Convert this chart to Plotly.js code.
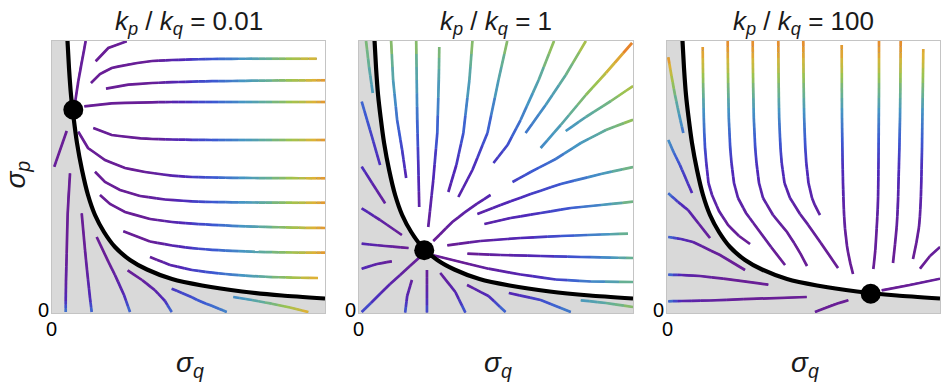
<!DOCTYPE html>
<html><head><meta charset="utf-8">
<script src="https://cdn.plot.ly/plotly-3.0.1.min.js"></script>
<style>html,body{margin:0;padding:0;background:#fff}#chart{width:947px;height:386px}</style>
</head><body><div id="chart"></div>
<script>
// ---- data (arbitrary sigma units; axes run 0..Q_MAX and 0..P_MAX) ----
const RATIOS = ['0.01', '1', '100'];
const TICK_LABEL = '0';
const Q_MAX = 273, P_MAX = 272;
// the black curve (same in all panels)
const CURVE_Q = [15.5, 17, 19, 21.5, 25, 30, 36, 43, 52, 63, 78, 95, 120, 150, 190, 230, 273];
const CURVE_P = [272, 245, 218, 196, 170, 143, 118, 98, 81, 66, 53, 43.5, 34, 27.5, 21.5, 17.5, 14.5];
// fixed points
const FIXED_Q = [21.3, 65, 203.7];
const FIXED_P = [203.3, 62.7, 19.3];
// streamlines: each point is [sigma_q, sigma_p, relative speed]
const STREAMS_1 = [
  [[43.7,251.7,0],[56.3,265,0],[74.7,271.7,0.02]],
  [[33.7,272,0.03],[28,243,0.02],[23,210,0]],
  [[39,230,0],[48,239,0],[59.7,245,0],[78,249,0],[100,252,0],[120,253,0.12],[140,253.6,0.25],[160,254,0.34],[180,254.2,0.44],[200,254.3,0.54],[220,254.3,0.65],[240,254.3,0.76],[264.7,254.3,0.88]],
  [[54,224.3,0],[76.3,228.3,0],[100,230,0],[120,230.8,0.12],[140,231.4,0.25],[160,231.8,0.34],[180,232,0.44],[200,232.3,0.54],[220,232.5,0.65],[240,232.6,0.76],[260,232.7,0.86],[273,232.7,0.95]],
  [[32.3,206.7,0],[59.7,209.7,0],[100,210.7,0],[120,211,0.12],[140,211,0.25],[160,211,0.34],[180,211,0.44],[200,211,0.54],[220,211,0.65],[240,211,0.76],[260,211,0.86],[273,211,0.95]],
  [[41.3,185,0],[59.7,178,0],[83,175,0],[100,174,0],[120,173.5,0.12],[140,173.2,0.25],[160,173,0.34],[180,173,0.44],[200,173,0.54],[220,173,0.65],[240,173,0.76],[260,173,0.86],[273,173,0.95]],
  [[26.3,181.3,0],[36,165,0],[53,153,0],[73,145,0],[93,141,0],[120,137.3,0.12],[140,136,0.25],[160,135.5,0.34],[180,135.1,0.44],[200,135,0.54],[220,134.9,0.65],[240,134.8,0.76],[260,134.7,0.86],[273,134.7,0.95]],
  [[43,141.3,0],[53,131,0],[68,123,0],[88,117,0],[113,113.5,0.08],[140,111.6,0.25],[160,111,0.34],[180,110.7,0.44],[200,110.5,0.54],[220,110.4,0.65],[240,110.3,0.76],[260,110.3,0.86],[273,110.3,0.95]],
  [[48,118,0],[58,109,0],[73,101,0],[98,94,0],[120,91,0.12],[140,89.3,0.25],[160,88.2,0.34],[180,87.2,0.44],[200,86.4,0.54],[220,85.9,0.65],[240,85.4,0.76],[260,85.1,0.86],[273,85,0.95]],
  [[71.3,81.7,0],[83,77,0],[98,71.5,0],[120,67.5,0.12],[140,64.8,0.25],[160,63.2,0.34],[180,62.1,0.44],[200,61.3,0.54],[220,60.8,0.65],[240,60.5,0.76],[260,60.4,0.86],[273,60.3,0.95]],
  [[98,56,0],[118,48,0.11],[140,43,0.25],[160,40.3,0.34],[180,38.3,0.44],[200,36.9,0.54],[220,35.9,0.65],[240,35.4,0.76],[266,35,0.9]],
  [[14.7,182,0],[8,163,0],[2.3,146.3,0.02]],
  [[18,139.7,0],[16,113,0],[15,73,0],[14,33,0.05],[13.7,12,0.2],[13.7,1,0.45]],
  [[29.7,99.7,0],[32,73,0],[35,43,0.05],[38,15,0.2],[39.7,1,0.42]],
  [[44.7,76,0],[53,58,0],[63,38,0.05],[72,18,0.18],[78,1,0.42]],
  [[75.7,42.7,0],[90,33,0.03],[103,22.7,0.1],[113,12,0.22],[119.7,1,0.42]],
  [[119.7,24.3,0.25],[135,18,0.3],[149.7,11,0.35],[163,6,0.4],[174.7,1,0.45]],
  [[181.3,16,0.45],[200,13,0.55],[219.7,9.3,0.66],[238,5.5,0.78],[256.3,1,0.88]]
];
const STREAMS_2 = [
  [[32,272,0.72],[34,233,0.55],[38,193,0.4],[43,163,0.28],[47,135,0.15]],
  [[57,272,0.72],[57.5,233,0.55],[58,193,0.4],[59,153,0.25],[60,106,0.08]],
  [[80,266,0.7],[79.5,233,0.55],[78,180,0.35],[74,133,0.17],[69,86,0.03]],
  [[113,272,0.72],[110,233,0.55],[104,180,0.35],[97,148,0.22],[89,121,0.12]],
  [[147.7,272,0.72],[139,233,0.55],[128,180,0.35],[113,143,0.2],[99,116,0.1]],
  [[194.3,272,0.75],[179,233,0.58],[161,193,0.42],[148,168,0.32],[134,150,0.25]],
  [[226,272,0.8],[206,238,0.62],[186,208,0.5],[166,180,0.4]],
  [[272,270,1],[246,240,0.82],[226,218,0.7],[201,188,0.55],[181,165,0.45]],
  [[273,227,0.8],[251,212,0.68],[226,196,0.57],[206,182,0.48]],
  [[273,193.3,0.75],[246,183,0.62],[221,170,0.52],[196,154,0.42],[171,141,0.33],[153,131,0.27]],
  [[74,72,0],[93,91,0.05],[111,105,0.1],[131,118,0.15]],
  [[118,99,0.1],[141,108,0.15],[171,119,0.25],[201,129,0.35],[241,139,0.5],[273,146,0.68]],
  [[125,89,0.08],[151,95,0.15],[181,100,0.25],[211,105,0.35],[241,108,0.48],[273,111.3,0.68]],
  [[88,67.7,0],[121,72,0.05],[161,75,0.18],[201,77,0.32],[241,78.5,0.48],[268,79.3,0.65]],
  [[108,59.3,0],[141,58,0.07],[181,57,0.2],[221,56,0.35],[251,55.4,0.5],[273,55,0.65]],
  [[74,57.7,0],[101,51,0],[129,44.3,0.05],[161,38.5,0.15],[196,33.5,0.28],[231,31.5,0.45],[273,31,0.65]],
  [[7,272,0.7],[10,246,0.6],[13.7,220,0.5]],
  [[2.7,211.3,0.4],[11,183,0.3],[21,148,0.2]],
  [[2.7,146.3,0.25],[13,130,0.12],[26,109.7,0.05]],
  [[2.7,104.7,0.2],[21,93,0.08],[42.7,78,0]],
  [[2.7,69.3,0.18],[26,67,0.05],[49.3,65,0]],
  [[2.7,44.3,0.2],[18,49,0.08],[32.7,51.7,0.02]],
  [[2.7,1,0.35],[31,29,0.12],[61,56.3,0]],
  [[46,0.5,0.35],[48,17,0.15],[52.7,33,0.03]],
  [[67.7,0.5,0.35],[67.7,21,0.12],[67.7,43,0]],
  [[106,0.5,0.35],[96,21,0.15],[81,40,0.02]],
  [[146,1,0.4],[129,17,0.2],[107.7,28,0.05]],
  [[211,1,0.45],[181,13,0.3],[149.3,20,0.15]],
  [[221,12.7,0.5],[246,10,0.6],[273,6,0.72]]
];
const STREAMS_3 = [
  [[35.7,266,0.93],[35.8,255,0.88],[36,240,0.77],[36.2,225,0.67],[36.5,210,0.56],[36.8,195,0.46],[37.3,180,0.38],[38,165,0.3],[39.3,150,0.24],[41.5,130,0.16],[45,118,0.12],[52,102,0.07],[61,88,0.03],[72,77,0.01],[83,69,0]],
  [[60.7,272,0.97],[60.8,255,0.88],[61,240,0.77],[61.2,225,0.67],[61.5,210,0.56],[61.8,195,0.46],[62.5,180,0.38],[63.2,165,0.3],[64.5,150,0.24],[67,130,0.16],[71,115,0.11],[79,100,0.07],[90,85,0.03],[104,66,0.01],[118,48,0]],
  [[85.7,272,0.97],[85.8,255,0.88],[86,240,0.77],[86.2,225,0.67],[86.5,210,0.56],[86.8,195,0.46],[87.5,180,0.38],[88.2,165,0.3],[89.5,150,0.24],[92,130,0.16],[96,115,0.11],[106,98,0.06],[120,81,0.02],[131,64,0.01],[140,47,0]],
  [[111.3,272,0.97],[111.4,255,0.88],[111.5,240,0.77],[111.7,225,0.67],[111.9,210,0.56],[112.2,195,0.46],[112.8,180,0.38],[113.5,165,0.3],[114.7,150,0.24],[117.5,130,0.16],[123,115,0.11],[133,99,0.06],[145,83,0.02],[158,64,0.01],[171,45,0]],
  [[136.3,272,0.97],[136.4,255,0.88],[136.5,240,0.77],[136.7,225,0.67],[136.9,210,0.56],[137.2,195,0.46],[137.7,180,0.38],[138.3,165,0.3],[139.3,150,0.24],[141.5,130,0.16],[145,115,0.11],[149,105,0.08],[153,98,0.06]],
  [[174.7,268,0.93],[174.7,255,0.88],[174.8,240,0.77],[174.8,225,0.67],[174.9,210,0.56],[175,195,0.46],[175.2,180,0.38],[175.4,165,0.3],[175.6,150,0.24],[176,130,0.16],[176.5,110,0.1],[177.5,90,0.05],[179,73,0.02],[182,55,0.01],[186,39,0]],
  [[212,272,0.97],[212,255,0.88],[212,240,0.77],[212,225,0.67],[211.9,210,0.56],[211.8,195,0.46],[211.7,180,0.38],[211.6,165,0.3],[211.5,150,0.24],[211.3,130,0.16],[211,110,0.1],[210,90,0.05],[209,73,0.02],[208,58,0.01],[206.3,44,0]],
  [[233.7,272,0.97],[233.6,255,0.88],[233.5,240,0.77],[233.4,225,0.67],[233.2,210,0.56],[233,195,0.46],[232.7,180,0.38],[232.4,165,0.3],[232,150,0.24],[231.5,130,0.16],[231,110,0.1],[230,90,0.05],[229,78,0.02],[227.5,64,0.01],[226,50,0]],
  [[256.3,264,0.9],[256.2,255,0.86],[256,240,0.77],[255.8,225,0.67],[255.6,210,0.56],[255.4,195,0.46],[255.2,180,0.38],[255,165,0.3],[254.7,150,0.24],[254.3,130,0.16],[253.7,110,0.1],[252.5,90,0.05],[251,78,0.02],[248.5,66,0.01],[246,54,0]],
  [[273,66,0.03],[263,57,0.01],[253,44.3,0]],
  [[214.7,22.7,0],[243,28,0.01],[273,34.3,0.03]],
  [[1.3,255.7,0.95],[4.5,237,0.8],[8,218,0.65],[12,199,0.52],[16.3,180,0.42]],
  [[1.3,173,0.48],[7,160,0.4],[13,148,0.32],[19,134,0.25],[25,120,0.2]],
  [[1.3,119.7,0.42],[11,111,0.25],[21,103,0.15],[32,89,0.06],[43,75,0.02]],
  [[1.3,76,0.42],[14,74,0.2],[26,71,0.1],[53,58,0.02],[78,43,0]],
  [[1.3,38.3,0.42],[15,38,0.15],[33,37,0.05],[68,33,0],[101.3,28.3,0]],
  [[1.3,11.7,0.45],[15,12,0.15],[43,12.5,0.05],[93,14.5,0],[139.7,16,0]],
  [[148,1,0.02],[165,8,0],[181.3,12.7,0]]
];
const STREAMS = [STREAMS_1, STREAMS_2, STREAMS_3];

// ---- styling ----
const SPEED_STOPS  = [0, 0.2, 0.35, 0.5, 0.62, 0.75, 0.87, 1];
const SPEED_COLORS = [[105,30,150],[80,40,185],[60,90,210],[70,150,195],[100,175,150],[155,195,80],[220,180,55],[235,120,40]];
const NBINS = 40, SUBDIV = 3;
const X_DOMAINS = [[0.05491, 0.34319], [0.37909, 0.66843], [0.70433, 0.99261]];
const Y_DOMAIN = [0.18912, 0.89378];
const FONT = 'Liberation Sans, Arial, sans-serif';

function colorAt(s) {
  s = Math.max(0, Math.min(1, s));
  for (let i = 1; i < SPEED_STOPS.length; i++) {
    if (s <= SPEED_STOPS[i]) {
      const t = (s - SPEED_STOPS[i-1]) / (SPEED_STOPS[i] - SPEED_STOPS[i-1]);
      const a = SPEED_COLORS[i-1], b = SPEED_COLORS[i];
      return 'rgb(' + a.map((v, k) => Math.round(v + (b[k] - v) * t)).join(',') + ')';
    }
  }
  const c = SPEED_COLORS[SPEED_COLORS.length - 1];
  return 'rgb(' + c.join(',') + ')';
}

const traces = [];
const annotations = [];
const layout = {
  width: 947, height: 386,
  margin: {l: 0, r: 0, t: 0, b: 0},
  paper_bgcolor: '#fff', plot_bgcolor: '#fff',
  showlegend: false,
  annotations: annotations
};

for (let i = 0; i < 3; i++) {
  const xa = i === 0 ? 'x' : 'x' + (i + 1);
  const ya = i === 0 ? 'y' : 'y' + (i + 1);
  const axBase = {
    showgrid: false, zeroline: false, showline: true, mirror: true,
    linecolor: '#c4c4c4', linewidth: 1, ticks: '', showticklabels: false,
    fixedrange: true
  };
  layout['xaxis' + (i === 0 ? '' : i + 1)] = Object.assign({}, axBase, {
    domain: X_DOMAINS[i], range: [0, Q_MAX], anchor: ya
  });
  layout['yaxis' + (i === 0 ? '' : i + 1)] = Object.assign({}, axBase, {
    domain: Y_DOMAIN, range: [0, P_MAX], anchor: xa
  });

  // grey region under the curve
  traces.push({
    type: 'scatter', mode: 'lines', xaxis: xa, yaxis: ya, hoverinfo: 'skip',
    x: [0].concat(CURVE_Q, [Q_MAX, 0]),
    y: [P_MAX].concat(CURVE_P, [0, 0]),
    fill: 'toself', fillcolor: '#d9d9d9', line: {width: 0, color: 'rgba(0,0,0,0)'}
  });

  // thin core under each streamline (hides seams between colour pieces)
  STREAMS[i].forEach(line => {
    const mean = line.reduce((acc, p) => acc + p[2], 0) / line.length;
    traces.push({
      type: 'scatter', mode: 'lines', xaxis: xa, yaxis: ya, hoverinfo: 'skip',
      x: line.map(p => p[0]), y: line.map(p => p[1]),
      line: {color: colorAt(mean), width: 1.5}
    });
  });

  // streamlines as colour pieces, merged into continuous runs per colour bin
  const bins = [];
  for (let b = 0; b <= NBINS; b++) bins.push({x: [], y: [], lx: null, ly: null});
  STREAMS[i].forEach(line => {
    for (let j = 0; j < line.length - 1; j++) {
      const a = line[j], c = line[j + 1];
      for (let k = 0; k < SUBDIV; k++) {
        const t0 = k / SUBDIV, t1 = (k + 1) / SUBDIV, tm = (t0 + t1) / 2;
        const x0 = a[0] + (c[0] - a[0]) * t0, y0 = a[1] + (c[1] - a[1]) * t0;
        const x1 = a[0] + (c[0] - a[0]) * t1, y1 = a[1] + (c[1] - a[1]) * t1;
        const s = a[2] + (c[2] - a[2]) * tm;
        const bk = bins[Math.round(Math.max(0, Math.min(1, s)) * NBINS)];
        if (bk.lx !== null && Math.abs(bk.lx - x0) < 1e-6 && Math.abs(bk.ly - y0) < 1e-6) {
          bk.x.push(x1); bk.y.push(y1);
        } else {
          if (bk.x.length) { bk.x.push(null); bk.y.push(null); }
          bk.x.push(x0, x1); bk.y.push(y0, y1);
        }
        bk.lx = x1; bk.ly = y1;
      }
    }
  });
  bins.forEach((bk, b) => {
    if (!bk.x.length) return;
    traces.push({
      type: 'scatter', mode: 'lines', xaxis: xa, yaxis: ya, hoverinfo: 'skip',
      x: bk.x, y: bk.y, connectgaps: false,
      line: {color: colorAt(b / NBINS), width: 2.7}
    });
  });

  // the black curve
  traces.push({
    type: 'scatter', mode: 'lines', xaxis: xa, yaxis: ya, hoverinfo: 'skip',
    x: CURVE_Q, y: CURVE_P, line: {color: '#000', width: 4.2, shape: 'spline', smoothing: 0.6}
  });
  // fixed point
  traces.push({
    type: 'scatter', mode: 'markers', xaxis: xa, yaxis: ya, hoverinfo: 'skip',
    x: [FIXED_Q[i]], y: [FIXED_P[i]], marker: {color: '#000', size: 20}
  });

  const cx = (X_DOMAINS[i][0] + X_DOMAINS[i][1]) / 2;
  annotations.push({
    xref: 'paper', yref: 'paper', x: cx, y: 0.943, xanchor: 'center', yanchor: 'middle',
    showarrow: false,
    text: '<i>k</i><sub><i>p</i></sub> / <i>k</i><sub><i>q</i></sub> = ' + RATIOS[i],
    font: {family: FONT, size: 26, color: '#1a1a1a'}
  });
  annotations.push({
    xref: 'paper', yref: 'paper', x: cx + 0.002, y: 0.055, xanchor: 'center', yanchor: 'middle',
    showarrow: false, text: '<i>σ</i><sub><i>q</i></sub>',
    font: {family: FONT, size: 28, color: '#1a1a1a'}
  });
  // "0" at the origin of each axis
  annotations.push({
    xref: xa + ' domain', yref: ya + ' domain', x: 0, y: 0, xanchor: 'right', yanchor: 'middle',
    xshift: -1, yshift: 3, showarrow: false, text: TICK_LABEL,
    font: {family: FONT, size: 20, color: '#000'}
  });
  annotations.push({
    xref: xa + ' domain', yref: ya + ' domain', x: 0, y: 0, xanchor: 'center', yanchor: 'top',
    yshift: -3, showarrow: false, text: TICK_LABEL,
    font: {family: FONT, size: 20, color: '#000'}
  });
}
annotations.push({
  xref: 'paper', yref: 'paper', x: 0.0175, y: 0.5466, xanchor: 'center', yanchor: 'middle',
  showarrow: false, textangle: -90, text: '<i>σ</i><sub><i>p</i></sub>',
  font: {family: FONT, size: 28, color: '#1a1a1a'}
});

Plotly.newPlot('chart', traces, layout, {displayModeBar: false, staticPlot: true});
</script></body></html>
